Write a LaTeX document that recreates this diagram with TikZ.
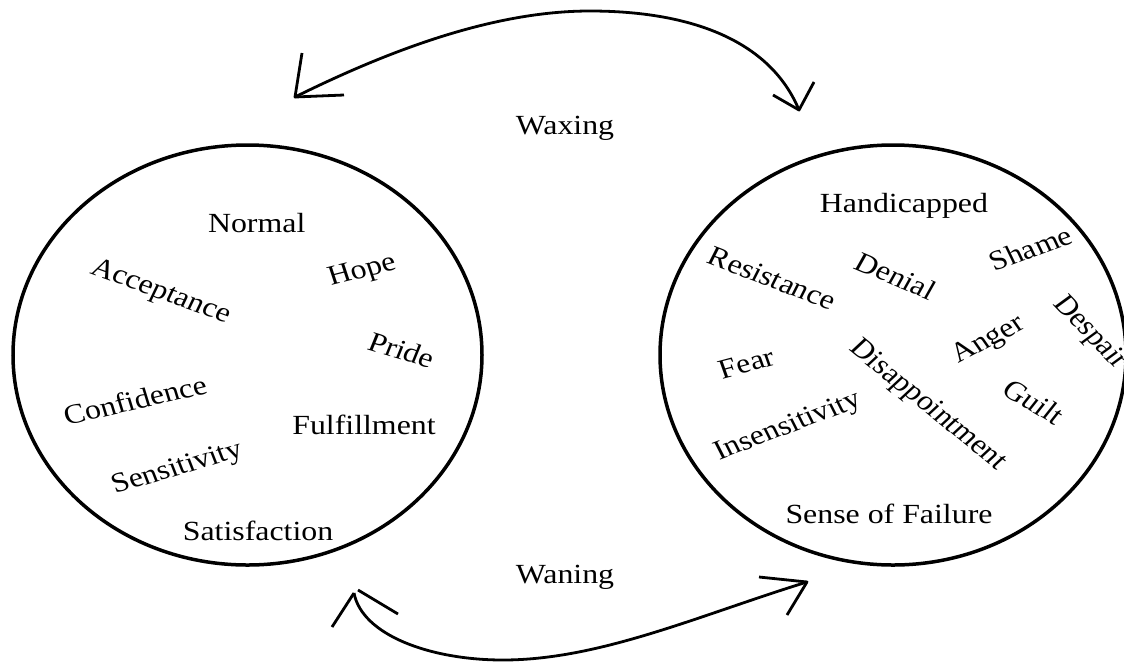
\documentclass[tikz,border=0pt]{standalone}
\usepackage{fontspec}
\setmainfont{Liberation Serif}
\begin{document}
\begin{tikzpicture}[x=1pt,y=-1pt,
  ring/.style={draw=black, line width=3.5pt},
  word/.style={font=\fontsize{27.7}{33}\selectfont, inner sep=0pt, xscale=1.15},
  swing/.style={draw=black, line width=2.8pt},
  barb/.style={draw=black, line width=2.8pt, line join=round}]
\useasboundingbox (0,0) rectangle (1124,662);

% the two states
\coordinate (calm) at (247.5,355);
\coordinate (storm) at (893,355);
\draw[ring] (calm) ellipse [x radius=234.5, y radius=210];
\draw[ring] (storm) ellipse [x radius=233, y radius=210];

% feelings of the first state
\node[word] (normal) at (256.7,223.3) {Normal};
\node[word, rotate=-22.7] (accept) at (160.7,292.3) {Acceptance};
\node[word, rotate=16] (hope) at (362.3,271.7) {Hope};
\node[word, rotate=-19.4] (pride) at (401.7,350) {Pride};
\node[word, rotate=14.9] (confid) at (135,400) {Confidence};
\node[word] (fulfil) at (364,425) {Fulfillment};
\node[word, rotate=18.8] (sensit) at (177.5,469) {Sensitivity};
\node[word] (satisf) at (258,530.7) {Satisfaction};

% feelings of the second state
\node[word] (handic) at (904,205.7) {Handicapped};
\node[word, rotate=-23.8] (resist) at (772.3,278.3) {Resistance};
\node[word, rotate=-26] (denial) at (895.7,275.7) {Denial};
\node[word, rotate=22.7] (shame) at (1030.7,248.3) {Shame};
\node[word, rotate=-50] (despair) at (1090,333) {Despair};
\node[word, rotate=31.4] (anger) at (989,340.7) {Anger};
\node[word, rotate=17.1] (fear) at (746.7,363.3) {Fear};
\node[word, rotate=-43] (disapp) at (927.3,405.7) {Disappointment};
\node[word, rotate=-34.6] (guilt) at (1034,401.7) {Guilt};
\node[word, rotate=23.8] (insens) at (788.3,427.3) {Insensitivity};
\node[word] (failure) at (889,514) {Sense of Failure};

% phase labels
\node[word] (waxing) at (565,128) {Waxing};
\node[word] (waning) at (565,577) {Waning};

% upper swing
\coordinate (waxL) at (295,97);
\coordinate (waxTop) at (590,11);
\coordinate (waxR) at (799,110);
\draw[swing] (waxL) .. controls (400,45) and (500,11) .. (waxTop)
             .. controls (690,11) and (770,40) .. (waxR);
\coordinate (waxLa) at (302,53);
\coordinate (waxLb) at (344,95);
\coordinate (waxRa) at (814,82);
\coordinate (waxRb) at (773,95);
\draw[barb] (waxLa) -- (waxL) -- (waxLb);
\draw[barb] (waxRa) -- (waxR) -- (waxRb);

% lower swing
\coordinate (wanL) at (354,593);
\coordinate (wanBot) at (503,660);
\coordinate (wanR) at (807,582);
\draw[swing] (wanL) .. controls (362,635) and (430,660) .. (wanBot)
             .. controls (600,660) and (700,615) .. (wanR);
\coordinate (wanLa) at (332,627);
\coordinate (wanLs) at (358,590);
\coordinate (wanLb) at (398,614);
\coordinate (wanRa) at (759,577);
\coordinate (wanRb) at (787,615);
\draw[barb] (wanLa) -- (wanL);
\draw[barb] (wanLs) -- (wanLb);
\draw[barb] (wanRa) -- (wanR) -- (wanRb);
\end{tikzpicture}
\end{document}
